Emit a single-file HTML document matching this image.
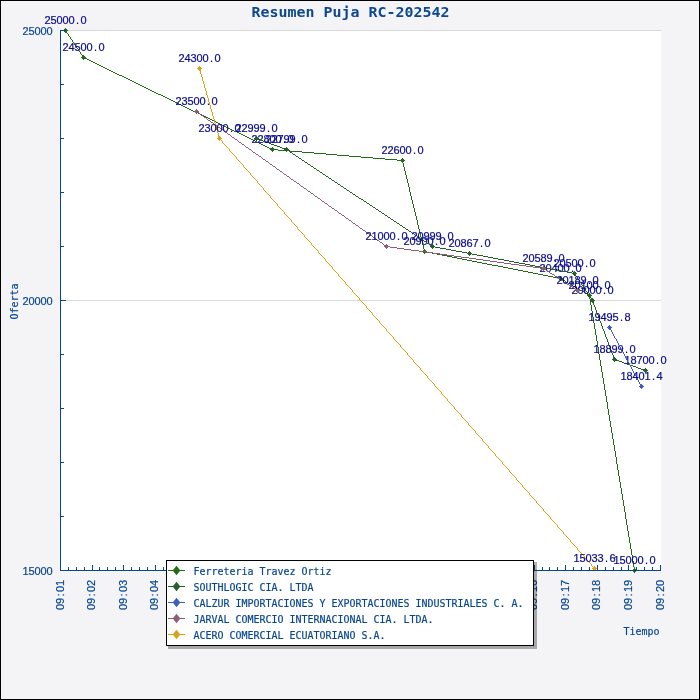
<!DOCTYPE html>
<html lang="es"><head><meta charset="utf-8"><title>Resumen Puja RC-202542</title>
<style>html,body{margin:0;padding:0;background:#f4f4f7;overflow:hidden}svg{display:block;will-change:transform}
.s text{font-family:"DejaVu Sans Mono","Liberation Mono",monospace;font-size:11px}
.s text.d{font-family:"Liberation Sans","DejaVu Sans",sans-serif;font-size:11px}
.s text.t{font-family:"DejaVu Sans Mono","Liberation Mono",monospace;font-weight:bold;font-size:13.7px}
</style></head><body>
<svg width="700" height="700" viewBox="0 0 700 700" class="s">
<rect x="0" y="0" width="700" height="700" fill="#f4f4f7"/>
<rect x="0.5" y="0.5" width="699" height="699" fill="none" stroke="#000" stroke-width="1"/>
<rect x="60" y="30" width="601" height="541" fill="#fff"/>
<rect x="61" y="30" width="600" height="1" fill="#d9d9d9"/>
<rect x="61" y="300" width="600" height="1" fill="#d9d9d9"/>
<g><path d="M83 57h2v1h-2zM85 58h2v1h-2zM87 59h2v1h-2zM89 60h2v1h-2zM91 61h2v1h-2zM93 62h2v1h-2zM95 63h2v1h-2zM97 64h2v1h-2zM99 65h2v1h-2zM101 66h2v1h-2zM103 67h2v1h-2zM105 68h2v1h-2zM107 69h2v1h-2zM109 70h2v1h-2zM111 71h2v1h-2zM113 72h2v1h-2zM115 73h2v1h-2zM117 74h2v1h-2zM119 75h3v1h-3zM122 76h2v1h-2zM124 77h2v1h-2zM126 78h2v1h-2zM128 79h2v1h-2zM130 80h2v1h-2zM132 81h2v1h-2zM134 82h2v1h-2zM136 83h2v1h-2zM138 84h2v1h-2zM140 85h2v1h-2zM142 86h2v1h-2zM144 87h2v1h-2zM146 88h2v1h-2zM148 89h2v1h-2zM150 90h2v1h-2zM152 91h2v1h-2zM154 92h2v1h-2zM156 93h2v1h-2zM158 94h3v1h-3zM161 95h2v1h-2zM163 96h2v1h-2zM165 97h2v1h-2zM167 98h2v1h-2zM169 99h2v1h-2zM171 100h2v1h-2zM173 101h2v1h-2zM175 102h2v1h-2zM177 103h2v1h-2zM179 104h2v1h-2zM181 105h2v1h-2zM183 106h2v1h-2zM185 107h2v1h-2zM187 108h2v1h-2zM189 109h2v1h-2zM191 110h2v1h-2zM193 111h2v1h-2zM195 112h3v1h-3zM198 113h2v1h-2zM200 114h2v1h-2zM202 115h2v1h-2zM204 116h2v1h-2zM206 117h2v1h-2zM208 118h2v1h-2zM210 119h2v1h-2zM212 120h2v1h-2zM214 121h2v1h-2zM216 122h2v1h-2zM218 123h2v1h-2zM220 124h2v1h-2zM222 125h2v1h-2zM224 126h2v1h-2zM226 127h2v1h-2zM228 128h2v1h-2zM230 129h2v1h-2zM232 130h2v1h-2zM234 131h3v1h-3zM237 132h2v1h-2zM239 133h2v1h-2zM241 134h2v1h-2zM243 135h2v1h-2zM245 136h2v1h-2zM247 137h2v1h-2zM249 138h2v1h-2zM251 139h2v1h-2zM253 140h2v1h-2zM255 141h2v1h-2zM257 142h2v1h-2zM259 143h2v1h-2zM261 144h2v1h-2zM263 145h2v1h-2zM265 146h2v1h-2zM267 147h2v1h-2zM269 148h2v1h-2zM271 149h7v1h-7zM278 150h12v1h-12zM290 151h12v1h-12zM302 152h12v1h-12zM314 153h12v1h-12zM326 154h11v1h-11zM337 155h12v1h-12zM349 156h12v1h-12zM361 157h12v1h-12zM373 158h12v1h-12zM385 159h12v1h-12zM397 160h6v1h-6zM424 251h3v1h-3zM427 252h5v1h-5zM432 253h5v1h-5zM437 254h5v1h-5zM442 255h5v1h-5zM447 256h5v1h-5zM452 257h5v1h-5zM457 258h5v1h-5zM462 259h5v1h-5zM467 260h5v1h-5zM472 261h5v1h-5zM477 262h5v1h-5zM482 263h5v1h-5zM487 264h5v1h-5zM492 265h6v1h-6zM498 266h5v1h-5zM503 267h5v1h-5zM508 268h5v1h-5zM513 269h5v1h-5zM518 270h5v1h-5zM523 271h5v1h-5zM528 272h5v1h-5zM533 273h5v1h-5zM538 274h5v1h-5zM543 275h5v1h-5zM548 276h5v1h-5zM553 277h5v1h-5zM558 278h3v1h-3zM561 279h2v1h-2zM563 280h2v1h-2zM566 282h2v1h-2zM568 283h2v1h-2zM570 284h2v1h-2zM573 286h2v1h-2zM575 287h2v1h-2zM578 289h2v1h-2zM580 290h2v1h-2zM582 291h2v1h-2zM585 293h2v1h-2zM587 294h2v1h-2zM65 30h1v1h-1zM66 31h1v2h-1zM67 33h1v1h-1zM68 34h1v2h-1zM69 36h1v1h-1zM70 37h1v2h-1zM71 39h1v1h-1zM72 40h1v2h-1zM73 42h1v1h-1zM74 43h1v2h-1zM75 45h1v1h-1zM76 46h1v2h-1zM77 48h1v1h-1zM78 49h1v2h-1zM79 51h1v1h-1zM80 52h1v2h-1zM81 54h1v1h-1zM82 55h1v2h-1zM402 161h1v2h-1zM403 163h1v4h-1zM404 167h1v4h-1zM405 171h1v4h-1zM406 175h1v4h-1zM407 179h1v4h-1zM408 183h1v4h-1zM409 187h1v5h-1zM410 192h1v4h-1zM411 196h1v4h-1zM412 200h1v4h-1zM413 204h1v4h-1zM414 208h1v4h-1zM415 212h1v4h-1zM416 216h1v4h-1zM417 220h1v5h-1zM418 225h1v4h-1zM419 229h1v4h-1zM420 233h1v4h-1zM421 237h1v4h-1zM422 241h1v4h-1zM423 245h1v4h-1zM424 249h1v2h-1zM565 281h1v1h-1zM572 285h1v1h-1zM577 288h1v1h-1zM584 292h1v1h-1zM589 295h1v4h-1zM590 299h1v6h-1zM591 305h1v6h-1zM592 311h1v6h-1zM593 317h1v6h-1zM594 323h1v6h-1zM595 329h1v6h-1zM596 335h1v6h-1zM597 341h1v6h-1zM598 347h1v7h-1zM599 354h1v6h-1zM600 360h1v6h-1zM601 366h1v6h-1zM602 372h1v6h-1zM603 378h1v6h-1zM604 384h1v6h-1zM605 390h1v6h-1zM606 396h1v6h-1zM607 402h1v7h-1zM608 409h1v6h-1zM609 415h1v6h-1zM610 421h1v6h-1zM611 427h1v6h-1zM612 433h1v6h-1zM613 439h1v6h-1zM614 445h1v6h-1zM615 451h1v6h-1zM616 457h1v7h-1zM617 464h1v6h-1zM618 470h1v6h-1zM619 476h1v6h-1zM620 482h1v6h-1zM621 488h1v6h-1zM622 494h1v6h-1zM623 500h1v6h-1zM624 506h1v6h-1zM625 512h1v7h-1zM626 519h1v6h-1zM627 525h1v6h-1zM628 531h1v6h-1zM629 537h1v6h-1zM630 543h1v6h-1zM631 549h1v6h-1zM632 555h1v6h-1zM633 561h1v6h-1zM634 567h1v4h-1z" fill="#236b17" shape-rendering="crispEdges"/>
<text class="d" x="47.5 53.5 59.5 65.5 71.5 77.5 83.5" y="24" fill="#0a0a8c" stroke="#0a0a8c" stroke-width="0.2" text-anchor="middle">25000.0</text>
<text class="d" x="65.5 71.5 77.5 83.5 89.5 95.5 101.5" y="51" fill="#0a0a8c" stroke="#0a0a8c" stroke-width="0.2" text-anchor="middle">24500.0</text>
<text class="d" x="254.5 260.5 266.5 272.5 278.5 284.5 290.5" y="143" fill="#0a0a8c" stroke="#0a0a8c" stroke-width="0.2" text-anchor="middle">22800.0</text>
<text class="d" x="384.5 390.5 396.5 402.5 408.5 414.5 420.5" y="154" fill="#0a0a8c" stroke="#0a0a8c" stroke-width="0.2" text-anchor="middle">22600.0</text>
<text class="d" x="406.5 412.5 418.5 424.5 430.5 436.5 442.5" y="245" fill="#0a0a8c" stroke="#0a0a8c" stroke-width="0.2" text-anchor="middle">20900.0</text>
<text class="d" x="542.5 548.5 554.5 560.5 566.5 572.5 578.5" y="272" fill="#0a0a8c" stroke="#0a0a8c" stroke-width="0.2" text-anchor="middle">20400.0</text>
<text class="d" x="571.5 577.5 583.5 589.5 595.5 601.5 607.5" y="289" fill="#0a0a8c" stroke="#0a0a8c" stroke-width="0.2" text-anchor="middle">20100.0</text>
<text class="d" x="616.5 622.5 628.5 634.5 640.5 646.5 652.5" y="564" fill="#0a0a8c" stroke="#0a0a8c" stroke-width="0.2" text-anchor="middle">15000.0</text>
<path d="M64 29h3v1h-3zM63 30h5v1h-5zM64 31h3v1h-3zM82 56h3v1h-3zM81 57h5v1h-5zM82 58h3v1h-3zM271 148h3v1h-3zM270 149h5v1h-5zM271 150h3v1h-3zM401 159h3v1h-3zM400 160h5v1h-5zM401 161h3v1h-3zM423 250h3v1h-3zM422 251h5v1h-5zM423 252h3v1h-3zM559 277h3v1h-3zM558 278h5v1h-5zM559 279h3v1h-3zM588 294h3v1h-3zM587 295h5v1h-5zM588 296h3v1h-3zM633 569h3v1h-3zM632 570h5v1h-5zM633 571h3v1h-3zM65 28h1v1h-1zM65 32h1v1h-1zM83 55h1v1h-1zM83 59h1v1h-1zM272 147h1v1h-1zM272 151h1v1h-1zM402 158h1v1h-1zM402 162h1v1h-1zM424 249h1v1h-1zM424 253h1v1h-1zM560 276h1v1h-1zM560 280h1v1h-1zM589 293h1v1h-1zM589 297h1v1h-1zM634 568h1v1h-1zM634 572h1v1h-1z" fill="#236b17" shape-rendering="crispEdges"/>
</g>
<g><path d="M256 138h2v1h-2zM258 139h3v1h-3zM261 140h2v1h-2zM263 141h3v1h-3zM266 142h3v1h-3zM269 143h2v1h-2zM271 144h3v1h-3zM274 145h3v1h-3zM277 146h3v1h-3zM280 147h2v1h-2zM282 148h3v1h-3zM285 149h2v1h-2zM287 150h2v1h-2zM290 152h2v1h-2zM293 154h2v1h-2zM296 156h2v1h-2zM299 158h2v1h-2zM302 160h2v1h-2zM305 162h2v1h-2zM308 164h2v1h-2zM311 166h2v1h-2zM314 168h2v1h-2zM317 170h2v1h-2zM320 172h2v1h-2zM323 174h2v1h-2zM326 176h2v1h-2zM329 178h2v1h-2zM332 180h2v1h-2zM335 182h2v1h-2zM338 184h2v1h-2zM341 186h2v1h-2zM344 188h2v1h-2zM347 190h2v1h-2zM350 192h2v1h-2zM353 194h2v1h-2zM356 196h2v1h-2zM359 198h2v1h-2zM361 199h2v1h-2zM364 201h2v1h-2zM367 203h2v1h-2zM370 205h2v1h-2zM373 207h2v1h-2zM376 209h2v1h-2zM379 211h2v1h-2zM382 213h2v1h-2zM385 215h2v1h-2zM388 217h2v1h-2zM391 219h2v1h-2zM394 221h2v1h-2zM397 223h2v1h-2zM400 225h2v1h-2zM403 227h2v1h-2zM406 229h2v1h-2zM409 231h2v1h-2zM412 233h2v1h-2zM415 235h2v1h-2zM418 237h2v1h-2zM421 239h2v1h-2zM424 241h2v1h-2zM427 243h2v1h-2zM430 245h2v1h-2zM432 246h3v1h-3zM435 247h5v1h-5zM440 248h6v1h-6zM446 249h5v1h-5zM451 250h5v1h-5zM456 251h6v1h-6zM462 252h5v1h-5zM467 253h5v1h-5zM472 254h5v1h-5zM477 255h6v1h-6zM483 256h5v1h-5zM488 257h5v1h-5zM493 258h5v1h-5zM498 259h6v1h-6zM504 260h5v1h-5zM509 261h5v1h-5zM514 262h5v1h-5zM519 263h6v1h-6zM525 264h5v1h-5zM530 265h5v1h-5zM535 266h5v1h-5zM540 267h6v1h-6zM546 268h5v1h-5zM551 269h5v1h-5zM556 270h5v1h-5zM561 271h6v1h-6zM567 272h5v1h-5zM572 273h3v1h-3zM614 359h2v1h-2zM616 360h3v1h-3zM619 361h3v1h-3zM622 362h2v1h-2zM624 363h3v1h-3zM627 364h3v1h-3zM630 365h3v1h-3zM633 366h3v1h-3zM636 367h2v1h-2zM638 368h3v1h-3zM641 369h3v1h-3zM644 370h2v1h-2zM289 151h1v1h-1zM292 153h1v1h-1zM295 155h1v1h-1zM298 157h1v1h-1zM301 159h1v1h-1zM304 161h1v1h-1zM307 163h1v1h-1zM310 165h1v1h-1zM313 167h1v1h-1zM316 169h1v1h-1zM319 171h1v1h-1zM322 173h1v1h-1zM325 175h1v1h-1zM328 177h1v1h-1zM331 179h1v1h-1zM334 181h1v1h-1zM337 183h1v1h-1zM340 185h1v1h-1zM343 187h1v1h-1zM346 189h1v1h-1zM349 191h1v1h-1zM352 193h1v1h-1zM355 195h1v1h-1zM358 197h1v1h-1zM363 200h1v1h-1zM366 202h1v1h-1zM369 204h1v1h-1zM372 206h1v1h-1zM375 208h1v1h-1zM378 210h1v1h-1zM381 212h1v1h-1zM384 214h1v1h-1zM387 216h1v1h-1zM390 218h1v1h-1zM393 220h1v1h-1zM396 222h1v1h-1zM399 224h1v1h-1zM402 226h1v1h-1zM405 228h1v1h-1zM408 230h1v1h-1zM411 232h1v1h-1zM414 234h1v1h-1zM417 236h1v1h-1zM420 238h1v1h-1zM423 240h1v1h-1zM426 242h1v1h-1zM429 244h1v1h-1zM575 274h1v2h-1zM576 276h1v1h-1zM577 277h1v2h-1zM578 279h1v1h-1zM579 280h1v2h-1zM580 282h1v1h-1zM581 283h1v2h-1zM582 285h1v1h-1zM583 286h1v2h-1zM584 288h1v1h-1zM585 289h1v2h-1zM586 291h1v1h-1zM587 292h1v2h-1zM588 294h1v1h-1zM589 295h1v2h-1zM590 297h1v1h-1zM591 298h1v2h-1zM592 300h1v2h-1zM593 302h1v3h-1zM594 305h1v2h-1zM595 307h1v3h-1zM596 310h1v3h-1zM597 313h1v2h-1zM598 315h1v3h-1zM599 318h1v3h-1zM600 321h1v2h-1zM601 323h1v3h-1zM602 326h1v3h-1zM603 329h1v2h-1zM604 331h1v3h-1zM605 334h1v3h-1zM606 337h1v2h-1zM607 339h1v3h-1zM608 342h1v3h-1zM609 345h1v2h-1zM610 347h1v3h-1zM611 350h1v3h-1zM612 353h1v2h-1zM613 355h1v3h-1zM614 358h1v1h-1z" fill="#25602a" shape-rendering="crispEdges"/>
<text class="d" x="238.5 244.5 250.5 256.5 262.5 268.5 274.5" y="132" fill="#0a0a8c" stroke="#0a0a8c" stroke-width="0.2" text-anchor="middle">22999.0</text>
<text class="d" x="268.5 274.5 280.5 286.5 292.5 298.5 304.5" y="143" fill="#0a0a8c" stroke="#0a0a8c" stroke-width="0.2" text-anchor="middle">22799.0</text>
<text class="d" x="414.5 420.5 426.5 432.5 438.5 444.5 450.5" y="240" fill="#0a0a8c" stroke="#0a0a8c" stroke-width="0.2" text-anchor="middle">20999.0</text>
<text class="d" x="451.5 457.5 463.5 469.5 475.5 481.5 487.5" y="247" fill="#0a0a8c" stroke="#0a0a8c" stroke-width="0.2" text-anchor="middle">20867.0</text>
<text class="d" x="556.5 562.5 568.5 574.5 580.5 586.5 592.5" y="267" fill="#0a0a8c" stroke="#0a0a8c" stroke-width="0.2" text-anchor="middle">20500.0</text>
<text class="d" x="574.5 580.5 586.5 592.5 598.5 604.5 610.5" y="294" fill="#0a0a8c" stroke="#0a0a8c" stroke-width="0.2" text-anchor="middle">20000.0</text>
<text class="d" x="596.5 602.5 608.5 614.5 620.5 626.5 632.5" y="353" fill="#0a0a8c" stroke="#0a0a8c" stroke-width="0.2" text-anchor="middle">18899.0</text>
<text class="d" x="627.5 633.5 639.5 645.5 651.5 657.5 663.5" y="364" fill="#0a0a8c" stroke="#0a0a8c" stroke-width="0.2" text-anchor="middle">18700.0</text>
<path d="M255 137h3v1h-3zM254 138h5v1h-5zM255 139h3v1h-3zM285 148h3v1h-3zM284 149h5v1h-5zM285 150h3v1h-3zM431 245h3v1h-3zM430 246h5v1h-5zM431 247h3v1h-3zM468 252h3v1h-3zM467 253h5v1h-5zM468 254h3v1h-3zM573 272h3v1h-3zM572 273h5v1h-5zM573 274h3v1h-3zM591 299h3v1h-3zM590 300h5v1h-5zM591 301h3v1h-3zM613 358h3v1h-3zM612 359h5v1h-5zM613 360h3v1h-3zM644 369h3v1h-3zM643 370h5v1h-5zM644 371h3v1h-3zM256 136h1v1h-1zM256 140h1v1h-1zM286 147h1v1h-1zM286 151h1v1h-1zM432 244h1v1h-1zM432 248h1v1h-1zM469 251h1v1h-1zM469 255h1v1h-1zM574 271h1v1h-1zM574 275h1v1h-1zM592 298h1v1h-1zM592 302h1v1h-1zM614 357h1v1h-1zM614 361h1v1h-1zM645 368h1v1h-1zM645 372h1v1h-1z" fill="#25602a" shape-rendering="crispEdges"/>
</g>
<g><path d="M609 327h1v1h-1zM610 328h1v2h-1zM611 330h1v2h-1zM612 332h1v2h-1zM613 334h1v2h-1zM614 336h1v2h-1zM615 338h1v1h-1zM616 339h1v2h-1zM617 341h1v2h-1zM618 343h1v2h-1zM619 345h1v2h-1zM620 347h1v2h-1zM621 349h1v2h-1zM622 351h1v1h-1zM623 352h1v2h-1zM624 354h1v2h-1zM625 356h1v2h-1zM626 358h1v2h-1zM627 360h1v2h-1zM628 362h1v1h-1zM629 363h1v2h-1zM630 365h1v2h-1zM631 367h1v2h-1zM632 369h1v2h-1zM633 371h1v2h-1zM634 373h1v2h-1zM635 375h1v1h-1zM636 376h1v2h-1zM637 378h1v2h-1zM638 380h1v2h-1zM639 382h1v2h-1zM640 384h1v2h-1zM641 386h1v1h-1z" fill="#3d5cc6" shape-rendering="crispEdges"/>
<text class="d" x="591.5 597.5 603.5 609.5 615.5 621.5 627.5" y="321" fill="#0a0a8c" stroke="#0a0a8c" stroke-width="0.2" text-anchor="middle">19495.8</text>
<text class="d" x="623.5 629.5 635.5 641.5 647.5 653.5 659.5" y="380" fill="#0a0a8c" stroke="#0a0a8c" stroke-width="0.2" text-anchor="middle">18401.4</text>
<path d="M608 326h3v1h-3zM607 327h5v1h-5zM608 328h3v1h-3zM640 385h3v1h-3zM639 386h5v1h-5zM640 387h3v1h-3zM609 325h1v1h-1zM609 329h1v1h-1zM641 384h1v1h-1zM641 388h1v1h-1z" fill="#3d5cc6" shape-rendering="crispEdges"/>
</g>
<g><path d="M197 112h2v1h-2zM201 115h2v1h-2zM204 117h2v1h-2zM208 120h2v1h-2zM211 122h2v1h-2zM215 125h2v1h-2zM218 127h2v1h-2zM221 129h2v1h-2zM225 132h2v1h-2zM228 134h2v1h-2zM232 137h2v1h-2zM235 139h2v1h-2zM239 142h2v1h-2zM242 144h2v1h-2zM246 147h2v1h-2zM249 149h2v1h-2zM253 152h2v1h-2zM256 154h2v1h-2zM259 156h2v1h-2zM263 159h2v1h-2zM266 161h2v1h-2zM270 164h2v1h-2zM273 166h2v1h-2zM277 169h2v1h-2zM280 171h2v1h-2zM284 174h2v1h-2zM287 176h2v1h-2zM291 179h2v1h-2zM294 181h2v1h-2zM297 183h2v1h-2zM301 186h2v1h-2zM304 188h2v1h-2zM308 191h2v1h-2zM311 193h2v1h-2zM315 196h2v1h-2zM318 198h2v1h-2zM322 201h2v1h-2zM325 203h2v1h-2zM329 206h2v1h-2zM332 208h2v1h-2zM335 210h2v1h-2zM339 213h2v1h-2zM342 215h2v1h-2zM346 218h2v1h-2zM349 220h2v1h-2zM353 223h2v1h-2zM356 225h2v1h-2zM360 228h2v1h-2zM363 230h2v1h-2zM367 233h2v1h-2zM370 235h2v1h-2zM373 237h2v1h-2zM377 240h2v1h-2zM380 242h2v1h-2zM384 245h2v1h-2zM386 246h4v1h-4zM390 247h7v1h-7zM397 248h7v1h-7zM404 249h7v1h-7zM411 250h8v1h-8zM419 251h7v1h-7zM426 252h7v1h-7zM433 253h7v1h-7zM440 254h7v1h-7zM447 255h7v1h-7zM454 256h7v1h-7zM461 257h8v1h-8zM469 258h7v1h-7zM476 259h7v1h-7zM483 260h7v1h-7zM490 261h7v1h-7zM497 262h7v1h-7zM504 263h7v1h-7zM511 264h8v1h-8zM519 265h7v1h-7zM526 266h7v1h-7zM533 267h7v1h-7zM540 268h4v1h-4zM544 269h2v1h-2zM547 271h2v1h-2zM550 273h2v1h-2zM552 274h2v1h-2zM555 276h2v1h-2zM558 278h2v1h-2zM561 280h2v1h-2zM564 282h2v1h-2zM567 284h2v1h-2zM569 285h2v1h-2zM572 287h2v1h-2zM575 289h2v1h-2zM196 111h1v1h-1zM199 113h1v1h-1zM200 114h1v1h-1zM203 116h1v1h-1zM206 118h1v1h-1zM207 119h1v1h-1zM210 121h1v1h-1zM213 123h1v1h-1zM214 124h1v1h-1zM217 126h1v1h-1zM220 128h1v1h-1zM223 130h1v1h-1zM224 131h1v1h-1zM227 133h1v1h-1zM230 135h1v1h-1zM231 136h1v1h-1zM234 138h1v1h-1zM237 140h1v1h-1zM238 141h1v1h-1zM241 143h1v1h-1zM244 145h1v1h-1zM245 146h1v1h-1zM248 148h1v1h-1zM251 150h1v1h-1zM252 151h1v1h-1zM255 153h1v1h-1zM258 155h1v1h-1zM261 157h1v1h-1zM262 158h1v1h-1zM265 160h1v1h-1zM268 162h1v1h-1zM269 163h1v1h-1zM272 165h1v1h-1zM275 167h1v1h-1zM276 168h1v1h-1zM279 170h1v1h-1zM282 172h1v1h-1zM283 173h1v1h-1zM286 175h1v1h-1zM289 177h1v1h-1zM290 178h1v1h-1zM293 180h1v1h-1zM296 182h1v1h-1zM299 184h1v1h-1zM300 185h1v1h-1zM303 187h1v1h-1zM306 189h1v1h-1zM307 190h1v1h-1zM310 192h1v1h-1zM313 194h1v1h-1zM314 195h1v1h-1zM317 197h1v1h-1zM320 199h1v1h-1zM321 200h1v1h-1zM324 202h1v1h-1zM327 204h1v1h-1zM328 205h1v1h-1zM331 207h1v1h-1zM334 209h1v1h-1zM337 211h1v1h-1zM338 212h1v1h-1zM341 214h1v1h-1zM344 216h1v1h-1zM345 217h1v1h-1zM348 219h1v1h-1zM351 221h1v1h-1zM352 222h1v1h-1zM355 224h1v1h-1zM358 226h1v1h-1zM359 227h1v1h-1zM362 229h1v1h-1zM365 231h1v1h-1zM366 232h1v1h-1zM369 234h1v1h-1zM372 236h1v1h-1zM375 238h1v1h-1zM376 239h1v1h-1zM379 241h1v1h-1zM382 243h1v1h-1zM383 244h1v1h-1zM546 270h1v1h-1zM549 272h1v1h-1zM554 275h1v1h-1zM557 277h1v1h-1zM560 279h1v1h-1zM563 281h1v1h-1zM566 283h1v1h-1zM571 286h1v1h-1zM574 288h1v1h-1zM577 290h1v1h-1z" fill="#8c5f7d" shape-rendering="crispEdges"/>
<text class="d" x="178.5 184.5 190.5 196.5 202.5 208.5 214.5" y="105" fill="#0a0a8c" stroke="#0a0a8c" stroke-width="0.2" text-anchor="middle">23500.0</text>
<text class="d" x="368.5 374.5 380.5 386.5 392.5 398.5 404.5" y="240" fill="#0a0a8c" stroke="#0a0a8c" stroke-width="0.2" text-anchor="middle">21000.0</text>
<text class="d" x="525.5 531.5 537.5 543.5 549.5 555.5 561.5" y="262" fill="#0a0a8c" stroke="#0a0a8c" stroke-width="0.2" text-anchor="middle">20589.0</text>
<text class="d" x="559.5 565.5 571.5 577.5 583.5 589.5 595.5" y="284" fill="#0a0a8c" stroke="#0a0a8c" stroke-width="0.2" text-anchor="middle">20189.0</text>
<path d="M195 110h3v1h-3zM194 111h5v1h-5zM195 112h3v1h-3zM385 245h3v1h-3zM384 246h5v1h-5zM385 247h3v1h-3zM542 267h3v1h-3zM541 268h5v1h-5zM542 269h3v1h-3zM576 289h3v1h-3zM575 290h5v1h-5zM576 291h3v1h-3zM196 109h1v1h-1zM196 113h1v1h-1zM386 244h1v1h-1zM386 248h1v1h-1zM543 266h1v1h-1zM543 270h1v1h-1zM577 288h1v1h-1zM577 292h1v1h-1z" fill="#8c5f7d" shape-rendering="crispEdges"/>
</g>
<g><path d="M199 68h1v2h-1zM200 70h1v4h-1zM201 74h1v3h-1zM202 77h1v4h-1zM203 81h1v3h-1zM204 84h1v4h-1zM205 88h1v3h-1zM206 91h1v4h-1zM207 95h1v3h-1zM208 98h1v4h-1zM209 102h1v3h-1zM210 105h1v4h-1zM211 109h1v3h-1zM212 112h1v4h-1zM213 116h1v3h-1zM214 119h1v4h-1zM215 123h1v3h-1zM216 126h1v4h-1zM217 130h1v3h-1zM218 133h1v4h-1zM219 137h1v2h-1zM220 139h1v1h-1zM221 140h1v1h-1zM222 141h1v2h-1zM223 143h1v1h-1zM224 144h1v1h-1zM225 145h1v1h-1zM226 146h1v1h-1zM227 147h1v1h-1zM228 148h1v1h-1zM229 149h1v2h-1zM230 151h1v1h-1zM231 152h1v1h-1zM232 153h1v1h-1zM233 154h1v1h-1zM234 155h1v1h-1zM235 156h1v1h-1zM236 157h1v2h-1zM237 159h1v1h-1zM238 160h1v1h-1zM239 161h1v1h-1zM240 162h1v1h-1zM241 163h1v1h-1zM242 164h1v1h-1zM243 165h1v2h-1zM244 167h1v1h-1zM245 168h1v1h-1zM246 169h1v1h-1zM247 170h1v1h-1zM248 171h1v1h-1zM249 172h1v1h-1zM250 173h1v2h-1zM251 175h1v1h-1zM252 176h1v1h-1zM253 177h1v1h-1zM254 178h1v1h-1zM255 179h1v1h-1zM256 180h1v1h-1zM257 181h1v2h-1zM258 183h1v1h-1zM259 184h1v1h-1zM260 185h1v1h-1zM261 186h1v1h-1zM262 187h1v1h-1zM263 188h1v2h-1zM264 190h1v1h-1zM265 191h1v1h-1zM266 192h1v1h-1zM267 193h1v1h-1zM268 194h1v1h-1zM269 195h1v1h-1zM270 196h1v2h-1zM271 198h1v1h-1zM272 199h1v1h-1zM273 200h1v1h-1zM274 201h1v1h-1zM275 202h1v1h-1zM276 203h1v1h-1zM277 204h1v2h-1zM278 206h1v1h-1zM279 207h1v1h-1zM280 208h1v1h-1zM281 209h1v1h-1zM282 210h1v1h-1zM283 211h1v1h-1zM284 212h1v2h-1zM285 214h1v1h-1zM286 215h1v1h-1zM287 216h1v1h-1zM288 217h1v1h-1zM289 218h1v1h-1zM290 219h1v1h-1zM291 220h1v2h-1zM292 222h1v1h-1zM293 223h1v1h-1zM294 224h1v1h-1zM295 225h1v1h-1zM296 226h1v1h-1zM297 227h1v2h-1zM298 229h1v1h-1zM299 230h1v1h-1zM300 231h1v1h-1zM301 232h1v1h-1zM302 233h1v1h-1zM303 234h1v1h-1zM304 235h1v2h-1zM305 237h1v1h-1zM306 238h1v1h-1zM307 239h1v1h-1zM308 240h1v1h-1zM309 241h1v1h-1zM310 242h1v1h-1zM311 243h1v2h-1zM312 245h1v1h-1zM313 246h1v1h-1zM314 247h1v1h-1zM315 248h1v1h-1zM316 249h1v1h-1zM317 250h1v1h-1zM318 251h1v2h-1zM319 253h1v1h-1zM320 254h1v1h-1zM321 255h1v1h-1zM322 256h1v1h-1zM323 257h1v1h-1zM324 258h1v1h-1zM325 259h1v2h-1zM326 261h1v1h-1zM327 262h1v1h-1zM328 263h1v1h-1zM329 264h1v1h-1zM330 265h1v1h-1zM331 266h1v1h-1zM332 267h1v2h-1zM333 269h1v1h-1zM334 270h1v1h-1zM335 271h1v1h-1zM336 272h1v1h-1zM337 273h1v1h-1zM338 274h1v2h-1zM339 276h1v1h-1zM340 277h1v1h-1zM341 278h1v1h-1zM342 279h1v1h-1zM343 280h1v1h-1zM344 281h1v1h-1zM345 282h1v2h-1zM346 284h1v1h-1zM347 285h1v1h-1zM348 286h1v1h-1zM349 287h1v1h-1zM350 288h1v1h-1zM351 289h1v1h-1zM352 290h1v2h-1zM353 292h1v1h-1zM354 293h1v1h-1zM355 294h1v1h-1zM356 295h1v1h-1zM357 296h1v1h-1zM358 297h1v1h-1zM359 298h1v2h-1zM360 300h1v1h-1zM361 301h1v1h-1zM362 302h1v1h-1zM363 303h1v1h-1zM364 304h1v1h-1zM365 305h1v1h-1zM366 306h1v2h-1zM367 308h1v1h-1zM368 309h1v1h-1zM369 310h1v1h-1zM370 311h1v1h-1zM371 312h1v1h-1zM372 313h1v2h-1zM373 315h1v1h-1zM374 316h1v1h-1zM375 317h1v1h-1zM376 318h1v1h-1zM377 319h1v1h-1zM378 320h1v1h-1zM379 321h1v2h-1zM380 323h1v1h-1zM381 324h1v1h-1zM382 325h1v1h-1zM383 326h1v1h-1zM384 327h1v1h-1zM385 328h1v1h-1zM386 329h1v2h-1zM387 331h1v1h-1zM388 332h1v1h-1zM389 333h1v1h-1zM390 334h1v1h-1zM391 335h1v1h-1zM392 336h1v1h-1zM393 337h1v2h-1zM394 339h1v1h-1zM395 340h1v1h-1zM396 341h1v1h-1zM397 342h1v1h-1zM398 343h1v1h-1zM399 344h1v1h-1zM400 345h1v2h-1zM401 347h1v1h-1zM402 348h1v1h-1zM403 349h1v1h-1zM404 350h1v1h-1zM405 351h1v1h-1zM406 352h1v1h-1zM407 353h1v2h-1zM408 355h1v1h-1zM409 356h1v1h-1zM410 357h1v1h-1zM411 358h1v1h-1zM412 359h1v1h-1zM413 360h1v2h-1zM414 362h1v1h-1zM415 363h1v1h-1zM416 364h1v1h-1zM417 365h1v1h-1zM418 366h1v1h-1zM419 367h1v1h-1zM420 368h1v2h-1zM421 370h1v1h-1zM422 371h1v1h-1zM423 372h1v1h-1zM424 373h1v1h-1zM425 374h1v1h-1zM426 375h1v1h-1zM427 376h1v2h-1zM428 378h1v1h-1zM429 379h1v1h-1zM430 380h1v1h-1zM431 381h1v1h-1zM432 382h1v1h-1zM433 383h1v1h-1zM434 384h1v2h-1zM435 386h1v1h-1zM436 387h1v1h-1zM437 388h1v1h-1zM438 389h1v1h-1zM439 390h1v1h-1zM440 391h1v1h-1zM441 392h1v2h-1zM442 394h1v1h-1zM443 395h1v1h-1zM444 396h1v1h-1zM445 397h1v1h-1zM446 398h1v1h-1zM447 399h1v2h-1zM448 401h1v1h-1zM449 402h1v1h-1zM450 403h1v1h-1zM451 404h1v1h-1zM452 405h1v1h-1zM453 406h1v1h-1zM454 407h1v2h-1zM455 409h1v1h-1zM456 410h1v1h-1zM457 411h1v1h-1zM458 412h1v1h-1zM459 413h1v1h-1zM460 414h1v1h-1zM461 415h1v2h-1zM462 417h1v1h-1zM463 418h1v1h-1zM464 419h1v1h-1zM465 420h1v1h-1zM466 421h1v1h-1zM467 422h1v1h-1zM468 423h1v2h-1zM469 425h1v1h-1zM470 426h1v1h-1zM471 427h1v1h-1zM472 428h1v1h-1zM473 429h1v1h-1zM474 430h1v1h-1zM475 431h1v2h-1zM476 433h1v1h-1zM477 434h1v1h-1zM478 435h1v1h-1zM479 436h1v1h-1zM480 437h1v1h-1zM481 438h1v1h-1zM482 439h1v2h-1zM483 441h1v1h-1zM484 442h1v1h-1zM485 443h1v1h-1zM486 444h1v1h-1zM487 445h1v1h-1zM488 446h1v2h-1zM489 448h1v1h-1zM490 449h1v1h-1zM491 450h1v1h-1zM492 451h1v1h-1zM493 452h1v1h-1zM494 453h1v1h-1zM495 454h1v2h-1zM496 456h1v1h-1zM497 457h1v1h-1zM498 458h1v1h-1zM499 459h1v1h-1zM500 460h1v1h-1zM501 461h1v1h-1zM502 462h1v2h-1zM503 464h1v1h-1zM504 465h1v1h-1zM505 466h1v1h-1zM506 467h1v1h-1zM507 468h1v1h-1zM508 469h1v1h-1zM509 470h1v2h-1zM510 472h1v1h-1zM511 473h1v1h-1zM512 474h1v1h-1zM513 475h1v1h-1zM514 476h1v1h-1zM515 477h1v1h-1zM516 478h1v2h-1zM517 480h1v1h-1zM518 481h1v1h-1zM519 482h1v1h-1zM520 483h1v1h-1zM521 484h1v1h-1zM522 485h1v2h-1zM523 487h1v1h-1zM524 488h1v1h-1zM525 489h1v1h-1zM526 490h1v1h-1zM527 491h1v1h-1zM528 492h1v1h-1zM529 493h1v2h-1zM530 495h1v1h-1zM531 496h1v1h-1zM532 497h1v1h-1zM533 498h1v1h-1zM534 499h1v1h-1zM535 500h1v1h-1zM536 501h1v2h-1zM537 503h1v1h-1zM538 504h1v1h-1zM539 505h1v1h-1zM540 506h1v1h-1zM541 507h1v1h-1zM542 508h1v1h-1zM543 509h1v2h-1zM544 511h1v1h-1zM545 512h1v1h-1zM546 513h1v1h-1zM547 514h1v1h-1zM548 515h1v1h-1zM549 516h1v1h-1zM550 517h1v2h-1zM551 519h1v1h-1zM552 520h1v1h-1zM553 521h1v1h-1zM554 522h1v1h-1zM555 523h1v1h-1zM556 524h1v1h-1zM557 525h1v2h-1zM558 527h1v1h-1zM559 528h1v1h-1zM560 529h1v1h-1zM561 530h1v1h-1zM562 531h1v1h-1zM563 532h1v2h-1zM564 534h1v1h-1zM565 535h1v1h-1zM566 536h1v1h-1zM567 537h1v1h-1zM568 538h1v1h-1zM569 539h1v1h-1zM570 540h1v2h-1zM571 542h1v1h-1zM572 543h1v1h-1zM573 544h1v1h-1zM574 545h1v1h-1zM575 546h1v1h-1zM576 547h1v1h-1zM577 548h1v2h-1zM578 550h1v1h-1zM579 551h1v1h-1zM580 552h1v1h-1zM581 553h1v1h-1zM582 554h1v1h-1zM583 555h1v1h-1zM584 556h1v2h-1zM585 558h1v1h-1zM586 559h1v1h-1zM587 560h1v1h-1zM588 561h1v1h-1zM589 562h1v1h-1zM590 563h1v1h-1zM591 564h1v2h-1zM592 566h1v1h-1zM593 567h1v1h-1zM594 568h1v1h-1z" fill="#d9a318" shape-rendering="crispEdges"/>
<text class="d" x="181.5 187.5 193.5 199.5 205.5 211.5 217.5" y="62" fill="#0a0a8c" stroke="#0a0a8c" stroke-width="0.2" text-anchor="middle">24300.0</text>
<text class="d" x="201.5 207.5 213.5 219.5 225.5 231.5 237.5" y="132" fill="#0a0a8c" stroke="#0a0a8c" stroke-width="0.2" text-anchor="middle">23000.0</text>
<text class="d" x="576.5 582.5 588.5 594.5 600.5 606.5 612.5" y="562" fill="#0a0a8c" stroke="#0a0a8c" stroke-width="0.2" text-anchor="middle">15033.6</text>
<path d="M198 67h3v1h-3zM197 68h5v1h-5zM198 69h3v1h-3zM218 137h3v1h-3zM217 138h5v1h-5zM218 139h3v1h-3zM593 567h3v1h-3zM592 568h5v1h-5zM593 569h3v1h-3zM199 66h1v1h-1zM199 70h1v1h-1zM219 136h1v1h-1zM219 140h1v1h-1zM594 566h1v1h-1zM594 570h1v1h-1z" fill="#d9a318" shape-rendering="crispEdges"/>
</g>
<g fill="#07468f">
<rect x="60" y="30" width="1" height="541"/>
<rect x="60" y="570" width="601" height="1"/>
<rect x="60" y="30" width="6" height="1"/>
<rect x="60" y="84" width="4" height="1"/>
<rect x="60" y="138" width="4" height="1"/>
<rect x="60" y="192" width="4" height="1"/>
<rect x="60" y="246" width="4" height="1"/>
<rect x="60" y="300" width="6" height="1"/>
<rect x="60" y="354" width="4" height="1"/>
<rect x="60" y="408" width="4" height="1"/>
<rect x="60" y="462" width="4" height="1"/>
<rect x="60" y="516" width="4" height="1"/>
<rect x="60" y="570" width="6" height="1"/>
<rect x="60" y="565" width="1" height="6"/>
<rect x="68" y="567" width="1" height="4"/>
<rect x="76" y="567" width="1" height="4"/>
<rect x="84" y="567" width="1" height="4"/>
<rect x="92" y="565" width="1" height="6"/>
<rect x="99" y="567" width="1" height="4"/>
<rect x="107" y="567" width="1" height="4"/>
<rect x="115" y="567" width="1" height="4"/>
<rect x="123" y="565" width="1" height="6"/>
<rect x="131" y="567" width="1" height="4"/>
<rect x="139" y="567" width="1" height="4"/>
<rect x="147" y="567" width="1" height="4"/>
<rect x="155" y="565" width="1" height="6"/>
<rect x="163" y="567" width="1" height="4"/>
<rect x="171" y="567" width="1" height="4"/>
<rect x="178" y="567" width="1" height="4"/>
<rect x="186" y="565" width="1" height="6"/>
<rect x="194" y="567" width="1" height="4"/>
<rect x="202" y="567" width="1" height="4"/>
<rect x="210" y="567" width="1" height="4"/>
<rect x="218" y="565" width="1" height="6"/>
<rect x="226" y="567" width="1" height="4"/>
<rect x="234" y="567" width="1" height="4"/>
<rect x="242" y="567" width="1" height="4"/>
<rect x="249" y="565" width="1" height="6"/>
<rect x="257" y="567" width="1" height="4"/>
<rect x="265" y="567" width="1" height="4"/>
<rect x="273" y="567" width="1" height="4"/>
<rect x="281" y="565" width="1" height="6"/>
<rect x="289" y="567" width="1" height="4"/>
<rect x="297" y="567" width="1" height="4"/>
<rect x="305" y="567" width="1" height="4"/>
<rect x="313" y="565" width="1" height="6"/>
<rect x="321" y="567" width="1" height="4"/>
<rect x="328" y="567" width="1" height="4"/>
<rect x="336" y="567" width="1" height="4"/>
<rect x="344" y="565" width="1" height="6"/>
<rect x="352" y="567" width="1" height="4"/>
<rect x="360" y="567" width="1" height="4"/>
<rect x="368" y="567" width="1" height="4"/>
<rect x="376" y="565" width="1" height="6"/>
<rect x="384" y="567" width="1" height="4"/>
<rect x="392" y="567" width="1" height="4"/>
<rect x="399" y="567" width="1" height="4"/>
<rect x="407" y="565" width="1" height="6"/>
<rect x="415" y="567" width="1" height="4"/>
<rect x="423" y="567" width="1" height="4"/>
<rect x="431" y="567" width="1" height="4"/>
<rect x="439" y="565" width="1" height="6"/>
<rect x="447" y="567" width="1" height="4"/>
<rect x="455" y="567" width="1" height="4"/>
<rect x="463" y="567" width="1" height="4"/>
<rect x="471" y="565" width="1" height="6"/>
<rect x="478" y="567" width="1" height="4"/>
<rect x="486" y="567" width="1" height="4"/>
<rect x="494" y="567" width="1" height="4"/>
<rect x="502" y="565" width="1" height="6"/>
<rect x="510" y="567" width="1" height="4"/>
<rect x="518" y="567" width="1" height="4"/>
<rect x="526" y="567" width="1" height="4"/>
<rect x="534" y="565" width="1" height="6"/>
<rect x="542" y="567" width="1" height="4"/>
<rect x="549" y="567" width="1" height="4"/>
<rect x="557" y="567" width="1" height="4"/>
<rect x="565" y="565" width="1" height="6"/>
<rect x="573" y="567" width="1" height="4"/>
<rect x="581" y="567" width="1" height="4"/>
<rect x="589" y="567" width="1" height="4"/>
<rect x="597" y="565" width="1" height="6"/>
<rect x="605" y="567" width="1" height="4"/>
<rect x="613" y="567" width="1" height="4"/>
<rect x="621" y="567" width="1" height="4"/>
<rect x="628" y="565" width="1" height="6"/>
<rect x="636" y="567" width="1" height="4"/>
<rect x="644" y="567" width="1" height="4"/>
<rect x="652" y="567" width="1" height="4"/>
<rect x="660" y="565" width="1" height="6"/>
</g>
<text class="d" x="25.5 31.5 37.5 43.5 49.5" y="35.0" fill="#07468f" stroke="#07468f" stroke-width="0.2" text-anchor="middle">25000</text>
<text class="d" x="25.5 31.5 37.5 43.5 49.5" y="305.0" fill="#07468f" stroke="#07468f" stroke-width="0.2" text-anchor="middle">20000</text>
<text class="d" x="25.5 31.5 37.5 43.5 49.5" y="575.0" fill="#07468f" stroke="#07468f" stroke-width="0.2" text-anchor="middle">15000</text>
<g transform="translate(63.5,610) rotate(-90)"><text class="d" x="3 9 15 21 27" y="0" fill="#07468f" stroke="#07468f" stroke-width="0.2" text-anchor="middle">09:01</text></g>
<g transform="translate(95.1,610) rotate(-90)"><text class="d" x="3 9 15 21 27" y="0" fill="#07468f" stroke="#07468f" stroke-width="0.2" text-anchor="middle">09:02</text></g>
<g transform="translate(126.7,610) rotate(-90)"><text class="d" x="3 9 15 21 27" y="0" fill="#07468f" stroke="#07468f" stroke-width="0.2" text-anchor="middle">09:03</text></g>
<g transform="translate(158.2,610) rotate(-90)"><text class="d" x="3 9 15 21 27" y="0" fill="#07468f" stroke="#07468f" stroke-width="0.2" text-anchor="middle">09:04</text></g>
<g transform="translate(189.8,610) rotate(-90)"><text class="d" x="3 9 15 21 27" y="0" fill="#07468f" stroke="#07468f" stroke-width="0.2" text-anchor="middle">09:05</text></g>
<g transform="translate(221.4,610) rotate(-90)"><text class="d" x="3 9 15 21 27" y="0" fill="#07468f" stroke="#07468f" stroke-width="0.2" text-anchor="middle">09:06</text></g>
<g transform="translate(253.0,610) rotate(-90)"><text class="d" x="3 9 15 21 27" y="0" fill="#07468f" stroke="#07468f" stroke-width="0.2" text-anchor="middle">09:07</text></g>
<g transform="translate(284.6,610) rotate(-90)"><text class="d" x="3 9 15 21 27" y="0" fill="#07468f" stroke="#07468f" stroke-width="0.2" text-anchor="middle">09:08</text></g>
<g transform="translate(316.1,610) rotate(-90)"><text class="d" x="3 9 15 21 27" y="0" fill="#07468f" stroke="#07468f" stroke-width="0.2" text-anchor="middle">09:09</text></g>
<g transform="translate(347.7,610) rotate(-90)"><text class="d" x="3 9 15 21 27" y="0" fill="#07468f" stroke="#07468f" stroke-width="0.2" text-anchor="middle">09:10</text></g>
<g transform="translate(379.3,610) rotate(-90)"><text class="d" x="3 9 15 21 27" y="0" fill="#07468f" stroke="#07468f" stroke-width="0.2" text-anchor="middle">09:11</text></g>
<g transform="translate(410.9,610) rotate(-90)"><text class="d" x="3 9 15 21 27" y="0" fill="#07468f" stroke="#07468f" stroke-width="0.2" text-anchor="middle">09:12</text></g>
<g transform="translate(442.4,610) rotate(-90)"><text class="d" x="3 9 15 21 27" y="0" fill="#07468f" stroke="#07468f" stroke-width="0.2" text-anchor="middle">09:13</text></g>
<g transform="translate(474.0,610) rotate(-90)"><text class="d" x="3 9 15 21 27" y="0" fill="#07468f" stroke="#07468f" stroke-width="0.2" text-anchor="middle">09:14</text></g>
<g transform="translate(505.6,610) rotate(-90)"><text class="d" x="3 9 15 21 27" y="0" fill="#07468f" stroke="#07468f" stroke-width="0.2" text-anchor="middle">09:15</text></g>
<g transform="translate(537.2,610) rotate(-90)"><text class="d" x="3 9 15 21 27" y="0" fill="#07468f" stroke="#07468f" stroke-width="0.2" text-anchor="middle">09:16</text></g>
<g transform="translate(568.8,610) rotate(-90)"><text class="d" x="3 9 15 21 27" y="0" fill="#07468f" stroke="#07468f" stroke-width="0.2" text-anchor="middle">09:17</text></g>
<g transform="translate(600.3,610) rotate(-90)"><text class="d" x="3 9 15 21 27" y="0" fill="#07468f" stroke="#07468f" stroke-width="0.2" text-anchor="middle">09:18</text></g>
<g transform="translate(631.9,610) rotate(-90)"><text class="d" x="3 9 15 21 27" y="0" fill="#07468f" stroke="#07468f" stroke-width="0.2" text-anchor="middle">09:19</text></g>
<g transform="translate(663.5,610) rotate(-90)"><text class="d" x="3 9 15 21 27" y="0" fill="#07468f" stroke="#07468f" stroke-width="0.2" text-anchor="middle">09:20</text></g>
<text x="659.5" y="635" fill="#07468f" stroke="#07468f" stroke-width="0.2" text-anchor="end" textLength="36" lengthAdjust="spacingAndGlyphs">Tiempo</text>
<g transform="translate(17.5,301.5) rotate(-90)"><text x="0" y="0" fill="#07468f" stroke="#07468f" stroke-width="0.2" text-anchor="middle" textLength="36" lengthAdjust="spacingAndGlyphs">Oferta</text></g>
<text class="t" x="350.5" y="17" fill="#0c478f" text-anchor="middle" textLength="198" lengthAdjust="spacingAndGlyphs">Resumen Puja RC-202542</text>
<rect x="168" y="562" width="369" height="87" fill="#000" fill-opacity="0.31"/>
<rect x="166.5" y="560.5" width="367" height="85" fill="#fff" stroke="#000" stroke-width="1"/>
<rect x="168" y="570" width="17" height="1" fill="#236b17"/>
<path d="M172.7,570.5 L176.5,565.7 L180.3,570.5 L176.5,575.3Z" fill="#236b17"/>
<text x="193.5" y="575" fill="#07468f" stroke="#07468f" stroke-width="0.2" text-anchor="start" textLength="138" lengthAdjust="spacingAndGlyphs">Ferreteria Travez Ortiz</text>
<rect x="168" y="586" width="17" height="1" fill="#25602a"/>
<path d="M172.7,586.5 L176.5,581.7 L180.3,586.5 L176.5,591.3Z" fill="#25602a"/>
<text x="193.5" y="591" fill="#07468f" stroke="#07468f" stroke-width="0.2" text-anchor="start" textLength="120" lengthAdjust="spacingAndGlyphs">SOUTHLOGIC CIA. LTDA</text>
<rect x="168" y="602" width="17" height="1" fill="#3d5cc6"/>
<path d="M172.7,602.5 L176.5,597.7 L180.3,602.5 L176.5,607.3Z" fill="#3d5cc6"/>
<text x="193.5" y="607" fill="#07468f" stroke="#07468f" stroke-width="0.2" text-anchor="start" textLength="330" lengthAdjust="spacingAndGlyphs">CALZUR IMPORTACIONES Y EXPORTACIONES INDUSTRIALES C. A.</text>
<rect x="168" y="618" width="17" height="1" fill="#8c5f7d"/>
<path d="M172.7,618.5 L176.5,613.7 L180.3,618.5 L176.5,623.3Z" fill="#8c5f7d"/>
<text x="193.5" y="623" fill="#07468f" stroke="#07468f" stroke-width="0.2" text-anchor="start" textLength="240" lengthAdjust="spacingAndGlyphs">JARVAL COMERCIO INTERNACIONAL CIA. LTDA.</text>
<rect x="168" y="634" width="17" height="1" fill="#d9a318"/>
<path d="M172.7,634.5 L176.5,629.7 L180.3,634.5 L176.5,639.3Z" fill="#d9a318"/>
<text x="193.5" y="639" fill="#07468f" stroke="#07468f" stroke-width="0.2" text-anchor="start" textLength="192" lengthAdjust="spacingAndGlyphs">ACERO COMERCIAL ECUATORIANO S.A.</text>
</svg></body></html>
